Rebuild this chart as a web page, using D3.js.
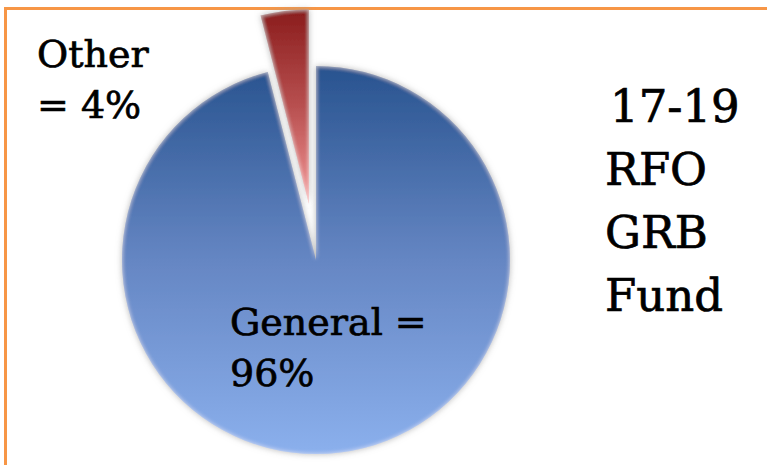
<!DOCTYPE html>
<html>
<head>
<meta charset="utf-8">
<script src="https://cdn.jsdelivr.net/npm/d3@7"></script>
<style>
  html, body { margin: 0; padding: 0; background: #fff; }
  svg { display: block; }
  .lbl { font-family: "DejaVu Serif", serif; fill: #000; stroke: #000; stroke-width: 0.7px; }
</style>
</head>
<body>
<div id="chart"></div>
<script>
// Slice data
const categories = ["General", "Other"];
const values = [96, 4];
const sliceLabels = [["General =", "96%"], ["Other", "= 4%"]];
const titleLines = ["17-19", "RFO", "GRB", "Fund"];

const width = 767, height = 465;
const cx = 316, cy = 260, radius = 194;
const explode = 57;

const svg = d3.select("#chart").append("svg")
    .attr("width", width)
    .attr("height", height);

// Orange frame (top and left edges only visible)
svg.append("line").attr("x1", 4).attr("x2", width).attr("y1", 8.5).attr("y2", 8.5)
    .attr("stroke", "#f79646").attr("stroke-width", 3);
svg.append("line").attr("x1", 5.5).attr("x2", 5.5).attr("y1", 7).attr("y2", height)
    .attr("stroke", "#f79646").attr("stroke-width", 3);

const defs = svg.append("defs");

// Blue gradient across the pie, dark at top to light at bottom
// (userSpaceOnUse is relative to the translated pie group)
const blue = defs.append("linearGradient")
    .attr("id", "blueGrad")
    .attr("gradientUnits", "userSpaceOnUse")
    .attr("x1", 0).attr("x2", 0)
    .attr("y1", -radius).attr("y2", radius);
blue.append("stop").attr("offset", "0%").attr("stop-color", "#28538f");
blue.append("stop").attr("offset", "50%").attr("stop-color", "#6586c3");
blue.append("stop").attr("offset", "100%").attr("stop-color", "#8bb0ed");

const red = defs.append("linearGradient")
    .attr("id", "redGrad")
    .attr("x1", 0).attr("x2", 0).attr("y1", 0).attr("y2", 1);
red.append("stop").attr("offset", "0%").attr("stop-color", "#8a1c1c");
red.append("stop").attr("offset", "50%").attr("stop-color", "#b85050");
red.append("stop").attr("offset", "100%").attr("stop-color", "#f49696");

// soft shadow + light inner edge
const f = defs.append("filter").attr("id", "soft")
    .attr("x", "-20%").attr("y", "-20%").attr("width", "140%").attr("height", "140%");
f.append("feGaussianBlur").attr("in", "SourceAlpha").attr("stdDeviation", 3).attr("result", "blur");
f.append("feFlood").attr("flood-color", "#999").attr("flood-opacity", 0.7).attr("result", "grey");
f.append("feComposite").attr("in", "grey").attr("in2", "blur").attr("operator", "in").attr("result", "shadow");
f.append("feGaussianBlur").attr("in", "SourceAlpha").attr("stdDeviation", 2).attr("result", "blur2");
f.append("feComposite").attr("in", "SourceAlpha").attr("in2", "blur2").attr("operator", "out").attr("result", "edge");
f.append("feFlood").attr("flood-color", "#fff").attr("flood-opacity", 0.55).attr("result", "white");
f.append("feComposite").attr("in", "white").attr("in2", "edge").attr("operator", "in").attr("result", "hl");
const merge = f.append("feMerge");
merge.append("feMergeNode").attr("in", "shadow");
merge.append("feMergeNode").attr("in", "SourceGraphic");
merge.append("feMergeNode").attr("in", "hl");

const data = categories.map((c, i) => ({ name: c, value: values[i] }));
const pie = d3.pie().sort(null).value(d => d.value);
const arc = d3.arc().innerRadius(0).outerRadius(radius);
const fills = { General: "url(#blueGrad)", Other: "url(#redGrad)" };

const g = svg.append("g").attr("transform", `translate(${cx},${cy})`);

g.selectAll("path")
    .data(pie(data))
    .join("path")
    .attr("d", arc)
    .attr("fill", d => fills[d.data.name])
    .attr("filter", "url(#soft)")
    .attr("transform", d => {
        if (d.data.name !== "Other") return null;
        const mid = (d.startAngle + d.endAngle) / 2;
        return `translate(${Math.sin(mid) * explode},${-Math.cos(mid) * explode})`;
    });

// Slice labels
const labelPos = { General: [230, 335], Other: [37, 67] };
categories.forEach((c, i) => {
    const [x, y] = labelPos[c];
    const t = svg.append("text").attr("class", "lbl")
        .attr("x", x).attr("y", y)
        .style("font-size", "38px");
    sliceLabels[i].forEach((line, j) => {
        t.append("tspan").attr("x", x).attr("dy", j === 0 ? 0 : 51).text(line);
    });
});

// Title on the right
const title = svg.append("text").attr("class", "lbl")
    .attr("x", 606).attr("y", 122)
    .style("font-size", "45px");
titleLines.forEach((line, j) => {
    title.append("tspan").attr("x", j === 0 ? 610 : 605).attr("dy", j === 0 ? 0 : 63).text(line);
});
</script>
</body>
</html>
